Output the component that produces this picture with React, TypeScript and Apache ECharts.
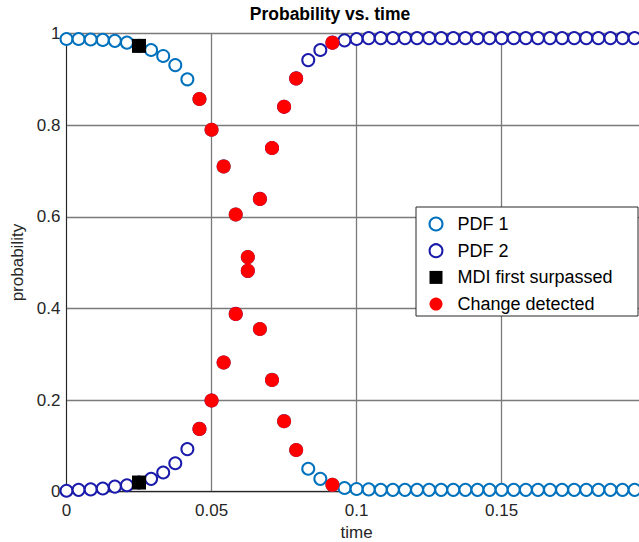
import { useEffect, useRef } from "react";
import * as echarts from "echarts";

// time vector: samples every 1/240 s from 0 to 0.2
const SAMPLE_STEP = 1 / 240;
const SAMPLE_COUNT = 49;

const PDF1_VALUES = [
  0.988, 0.988, 0.987, 0.986, 0.984, 0.98, 0.973, 0.964, 0.951, 0.931, 0.9,
  0.857, 0.79, 0.71, 0.605, 0.512, 0.355, 0.244, 0.154, 0.091, 0.05, 0.028,
  0.015, 0.008, 0.006, 0.005, 0.004, 0.004, 0.004, 0.004, 0.004, 0.004, 0.004,
  0.004, 0.004, 0.004, 0.004, 0.004, 0.004, 0.004, 0.004, 0.004, 0.004, 0.004,
  0.004, 0.004, 0.004, 0.004, 0.004,
];

const PDF2_VALUES = [
  0.002, 0.004, 0.005, 0.007, 0.011, 0.014, 0.02, 0.028, 0.042, 0.062, 0.093,
  0.137, 0.199, 0.282, 0.388, 0.482, 0.639, 0.75, 0.84, 0.902, 0.942, 0.964,
  0.98, 0.985, 0.988, 0.99, 0.99, 0.99, 0.99, 0.99, 0.99, 0.99, 0.99, 0.99,
  0.99, 0.99, 0.99, 0.99, 0.99, 0.99, 0.99, 0.99, 0.99, 0.99, 0.99, 0.99, 0.99,
  0.99, 0.99,
];

const MDI_INDICES = [6];
const CHANGE_INDICES = [11, 12, 13, 14, 15, 16, 17, 18, 19, 22];

const SERIES_NAMES = ["PDF 1", "PDF 2", "MDI first surpassed", "Change detected"];
const TITLE = "Probability vs. time";
const X_NAME = "time";
const Y_NAME = "probability";

const FONT = "'Liberation Sans', Arial, Helvetica, sans-serif";

export default function App() {
  const ref = useRef<HTMLDivElement>(null);

  useEffect(() => {
    if (!ref.current) return;
    const chart = echarts.init(ref.current, undefined, { renderer: "svg" });

    const times: number[] = [];
    for (let k = 0; k < SAMPLE_COUNT; k++) times.push(k * SAMPLE_STEP);

    const pdf1 = times.map((t, i) => [t, PDF1_VALUES[i]]);
    const pdf2 = times.map((t, i) => [t, PDF2_VALUES[i]]);
    const mdi: number[][] = [];
    MDI_INDICES.forEach((i) => {
      mdi.push([times[i], PDF1_VALUES[i]]);
      mdi.push([times[i], PDF2_VALUES[i]]);
    });
    const change: number[][] = [];
    CHANGE_INDICES.forEach((i) => {
      change.push([times[i], PDF1_VALUES[i]]);
      change.push([times[i], PDF2_VALUES[i]]);
    });

    chart.setOption({
      animation: false,
      backgroundColor: "#ffffff",
      textStyle: { fontFamily: FONT },
      grid: {
        left: 66.5,
        top: 33.5,
        width: 580.2,
        height: 458.2,
        outerBoundsMode: "none",
        containLabel: false,
        show: true,
        borderColor: "#262626",
        borderWidth: 1,
        backgroundColor: "transparent",
      },
      xAxis: {
        type: "value",
        min: 0,
        max: 0.2,
        interval: 0.05,
        name: X_NAME,
        nameLocation: "middle",
        nameGap: 30,
        nameTextStyle: { fontSize: 17, color: "#262626", fontFamily: FONT },
        axisLine: { show: true, lineStyle: { color: "#262626", width: 1 } },
        axisTick: { show: false },
        axisLabel: {
          fontSize: 17,
          color: "#262626",
          margin: 10,
          showMaxLabel: false,
          fontFamily: FONT,
        },
        splitLine: { show: true, lineStyle: { color: "#7a7a7a", width: 1.3 } },
      },
      yAxis: {
        type: "value",
        min: 0,
        max: 1,
        interval: 0.2,
        name: Y_NAME,
        nameLocation: "middle",
        nameGap: 40,
        nameTextStyle: { fontSize: 17, color: "#262626", fontFamily: FONT },
        axisLine: { show: true, lineStyle: { color: "#262626", width: 1 } },
        axisTick: { show: false },
        axisLabel: { fontSize: 17, color: "#262626", margin: 6, fontFamily: FONT },
        splitLine: { show: true, lineStyle: { color: "#7a7a7a", width: 1.3 } },
      },
      legend: {
        orient: "vertical",
        left: 428.5,
        top: 215,
        padding: 0,
        itemWidth: 13,
        itemHeight: 13,
        itemGap: 8.7,
        z: 10,
        data: SERIES_NAMES,
        textStyle: {
          fontSize: 18,
          lineHeight: 18,
          color: "#000000",
          padding: [0, 0, 0, 10],
          fontFamily: FONT,
        },
      },
      graphic: [
        {
          type: "rect",
          z: 9,
          shape: { x: 416, y: 207, width: 222, height: 109 },
          style: { fill: "#ffffff", stroke: "#262626", lineWidth: 1 },
        },
        {
          type: "text",
          z: 10,
          x: 330,
          y: 14,
          style: {
            text: TITLE,
            fill: "#000000",
            font: `bold 17.5px ${FONT}`,
            textAlign: "center",
            textVerticalAlign: "middle",
          },
        },
      ],
      series: [
        {
          name: SERIES_NAMES[0],
          type: "scatter",
          symbol: "emptyCircle",
          symbolSize: 12,
          data: pdf1,
          itemStyle: { color: "#0072BD", borderColor: "#0072BD", borderWidth: 1, opacity: 1 },
          z: 2,
        },
        {
          name: SERIES_NAMES[1],
          type: "scatter",
          symbol: "emptyCircle",
          symbolSize: 12,
          data: pdf2,
          itemStyle: { color: "#1b1bab", borderColor: "#1b1bab", borderWidth: 1, opacity: 1 },
          z: 2,
        },
        {
          name: SERIES_NAMES[2],
          type: "scatter",
          symbol: "rect",
          symbolSize: 14,
          data: mdi,
          itemStyle: { color: "#000000", opacity: 1 },
          z: 3,
        },
        {
          name: SERIES_NAMES[3],
          type: "scatter",
          symbol: "circle",
          symbolSize: 14,
          data: change,
          itemStyle: { color: "#FF0000", opacity: 1 },
          z: 4,
        },
      ],
    });

    return () => chart.dispose();
  }, []);

  return <div ref={ref} style={{ width: 639, height: 542, position: "absolute", left: 0, top: 0 }} />;
}
